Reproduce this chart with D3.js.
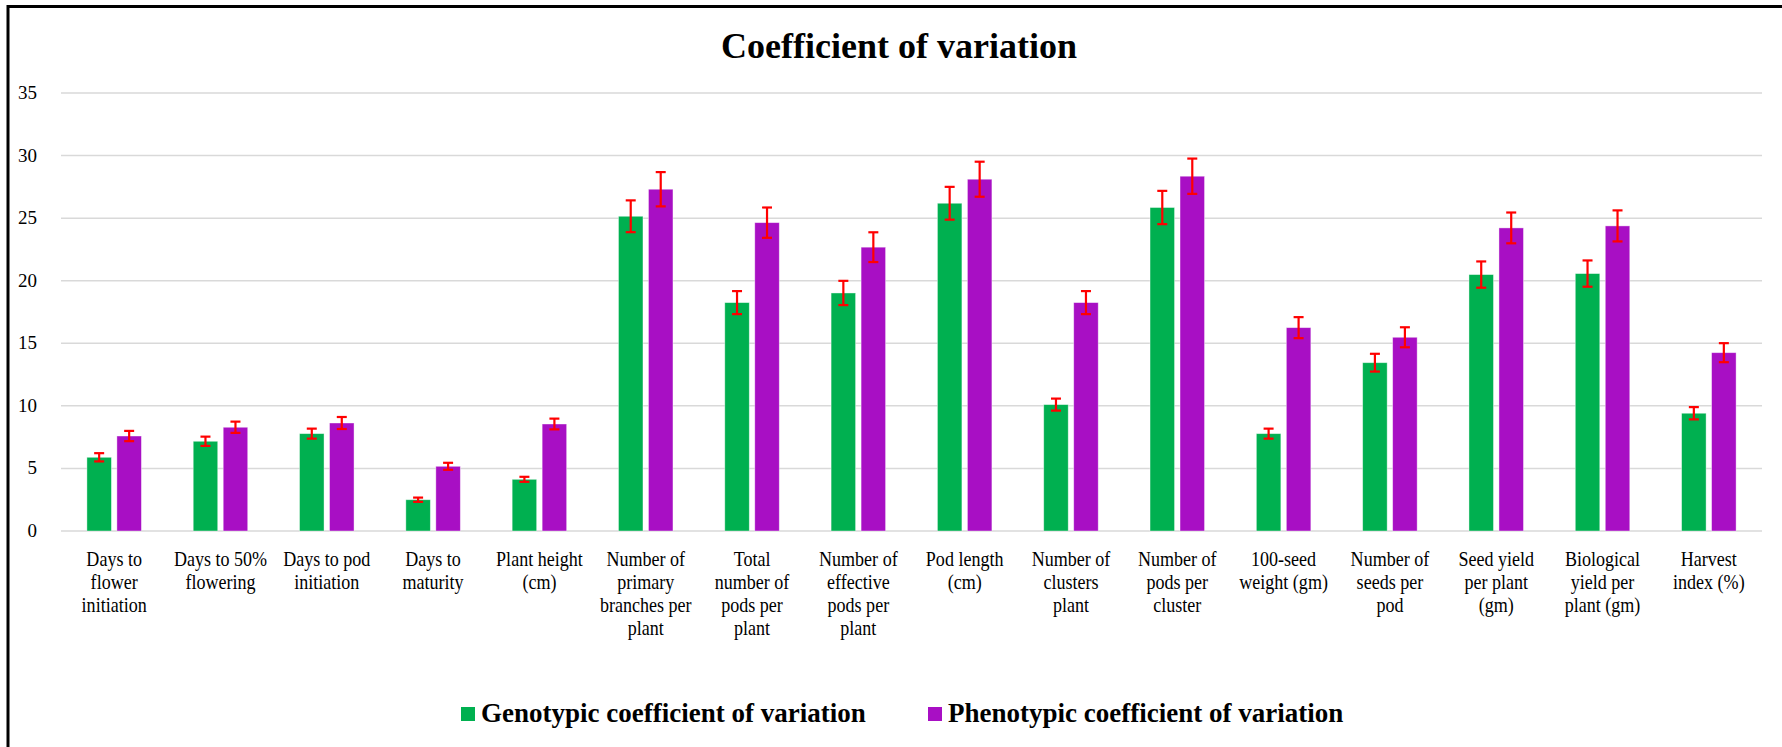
<!DOCTYPE html>
<html>
<head>
<meta charset="utf-8">
<script src="https://cdn.jsdelivr.net/npm/d3@7"></script>
<style>
  body { margin: 0; background: #fff; }
  svg { display: block; font-family: "Liberation Serif", "Times New Roman", serif; }
</style>
</head>
<body>
<div id="chart"></div>
<script>
const categories = [
  "Days to|flower|initiation", "Days to 50%|flowering", "Days to pod|initiation",
  "Days to|maturity", "Plant height|(cm)", "Number of|primary|branches per|plant",
  "Total|number of|pods per|plant", "Number of|effective|pods per|plant", "Pod length|(cm)",
  "Number of|clusters|plant", "Number of|pods per|cluster", "100-seed|weight (gm)",
  "Number of|seeds per|pod", "Seed yield|per plant|(gm)", "Biological|yield per|plant (gm)",
  "Harvest|index (%)"
]
const seriesNames = ["Genotypic coefficient of variation", "Phenotypic coefficient of variation"]
const gcv = [5.89, 7.17, 7.78, 2.50, 4.13, 25.15, 18.25, 19.02, 26.19, 10.10, 25.85, 7.78, 13.45, 20.49, 20.57, 9.41]
const pcv = [7.59, 8.29, 8.63, 5.17, 8.55, 27.31, 24.64, 22.68, 28.11, 18.25, 28.35, 16.25, 15.48, 24.22, 24.38, 14.25]
const gcvErr = [0.33, 0.37, 0.40, 0.17, 0.20, 1.27, 0.92, 0.97, 1.31, 0.48, 1.33, 0.40, 0.71, 1.05, 1.05, 0.49]
const pcvErr = [0.41, 0.45, 0.48, 0.28, 0.43, 1.37, 1.21, 1.19, 1.40, 0.92, 1.41, 0.84, 0.80, 1.23, 1.24, 0.76]
const yTicks = [0, 5, 10, 15, 20, 25, 30, 35]
const colors = ["#00B050", "#A80FC4"]

const width = 1782
const height = 747
const plot = { left: 61, right: 1762, top: 93, bottom: 531 }

const svg = d3.select("#chart").append("svg")
  .attr("width", width)
  .attr("height", height)

// frame (right and bottom edges are cut off in the original)
svg.append("line").attr("x1", 8).attr("x2", width).attr("y1", 6.5).attr("y2", 6.5)
  .attr("stroke", "#000").attr("stroke-width", 3)
svg.append("line").attr("x1", 8).attr("x2", 8).attr("y1", 5).attr("y2", height)
  .attr("stroke", "#000").attr("stroke-width", 3)

svg.append("text")
  .attr("x", 899).attr("y", 58)
  .attr("text-anchor", "middle")
  .attr("font-size", 36).attr("font-weight", "bold")
  .text("Coefficient of variation")

const x = d3.scaleBand().domain(categories).range([plot.left, plot.right]).padding(0)
const xs = d3.scaleBand().domain([0, 1]).range([-27.25, 27.25]).paddingInner(0.183)
const y = d3.scaleLinear().domain([0, 35]).range([plot.bottom, plot.top])

// gridlines + labels
svg.append("g")
  .selectAll("line")
  .data(yTicks)
  .join("line")
  .attr("x1", plot.left).attr("x2", plot.right)
  .attr("y1", d => y(d)).attr("y2", d => y(d))
  .attr("stroke", "#D9D9D9").attr("stroke-width", 1.5)

svg.append("g")
  .selectAll("text")
  .data(yTicks)
  .join("text")
  .attr("x", 37).attr("y", d => y(d) + 6)
  .attr("text-anchor", "end")
  .attr("font-size", 19)
  .text(d => d)

const rows = categories.map((c, i) => ({
  cat: c,
  vals: [
    { s: 0, v: gcv[i], e: gcvErr[i] },
    { s: 1, v: pcv[i], e: pcvErr[i] }
  ]
}))

const groups = svg.append("g")
  .selectAll("g")
  .data(rows)
  .join("g")
  .attr("transform", d => `translate(${x(d.cat) + x.bandwidth() / 2},0)`)

groups.selectAll("rect")
  .data(d => d.vals)
  .join("rect")
  .attr("x", d => xs(d.s))
  .attr("width", xs.bandwidth())
  .attr("y", d => y(d.v))
  .attr("height", d => y(0) - y(d.v))
  .attr("fill", d => colors[d.s])
  .attr("stroke", "#fff").attr("stroke-opacity", 0.5).attr("stroke-width", 0.8)

// error bars
const err = groups.selectAll("g.err")
  .data(d => d.vals)
  .join("g")
  .attr("class", "err")
  .attr("stroke", "#FF0000")
  .attr("stroke-width", 2.2)

err.append("line")
  .attr("x1", d => xs(d.s) + xs.bandwidth() / 2)
  .attr("x2", d => xs(d.s) + xs.bandwidth() / 2)
  .attr("y1", d => y(d.v + d.e)).attr("y2", d => y(d.v - d.e))
err.append("line")
  .attr("x1", d => xs(d.s) + xs.bandwidth() / 2 - 5)
  .attr("x2", d => xs(d.s) + xs.bandwidth() / 2 + 5)
  .attr("y1", d => y(d.v + d.e)).attr("y2", d => y(d.v + d.e))
err.append("line")
  .attr("x1", d => xs(d.s) + xs.bandwidth() / 2 - 5)
  .attr("x2", d => xs(d.s) + xs.bandwidth() / 2 + 5)
  .attr("y1", d => y(d.v - d.e)).attr("y2", d => y(d.v - d.e))

// category labels, slightly condensed like the original
svg.append("g")
  .selectAll("text")
  .data(categories)
  .join("text")
  .attr("transform", d => `translate(${x(d) + x.bandwidth() / 2},566) scale(0.88,1)`)
  .attr("text-anchor", "middle")
  .attr("font-size", 20.5)
  .selectAll("tspan")
  .data(d => d.split("|"))
  .join("tspan")
  .attr("x", 0)
  .attr("dy", (d, i) => i === 0 ? 0 : 23)
  .text(d => d)

// legend
const legendX = [461, 928]
const legend = svg.append("g")
  .selectAll("g")
  .data(seriesNames)
  .join("g")
  .attr("transform", (d, i) => `translate(${legendX[i]},707)`)

legend.append("rect")
  .attr("width", 14).attr("height", 14)
  .attr("fill", (d, i) => colors[i])

legend.append("text")
  .attr("x", 20).attr("y", 15)
  .attr("font-size", 27).attr("font-weight", "bold")
  .text(d => d)
</script>
</body>
</html>
